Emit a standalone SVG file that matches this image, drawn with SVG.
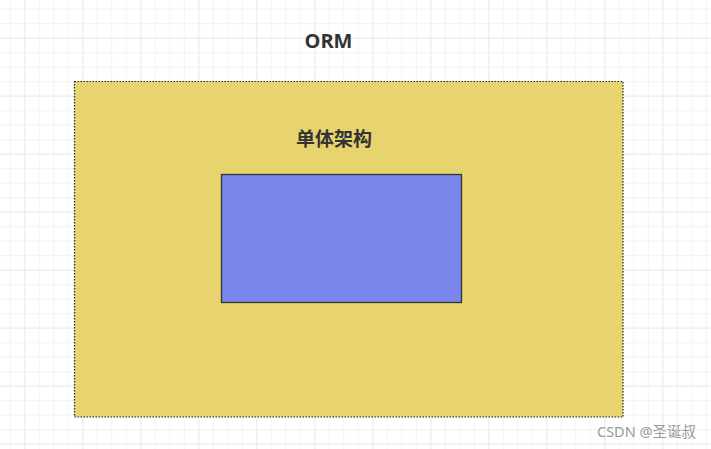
<svg xmlns="http://www.w3.org/2000/svg" width="711" height="449" viewBox="0 0 711 449">
  <style>
    .title { font-family: "Open Sans", "Noto Sans CJK SC", sans-serif; font-weight: bold; fill: #333333; text-anchor: middle; }
    .mark { font-family: "Noto Sans", "Noto Sans CJK SC", sans-serif; fill: #9a9a9a; font-size: 14.5px; }
  </style>
  <defs>
    <pattern id="minor" x="9.8" y="8.7" width="14.5" height="14.5" patternUnits="userSpaceOnUse">
      <path d="M0 0.5 H14.5 M0.5 0 V14.5" stroke="#f3f3f3" stroke-width="1" fill="none"/>
    </pattern>
    <pattern id="major" x="24.3" y="37.7" width="58" height="58" patternUnits="userSpaceOnUse">
      <path d="M0 0.5 H58 M0.5 0 V58" stroke="#ebebeb" stroke-width="1" fill="none"/>
    </pattern>
  </defs>
  <rect width="711" height="449" fill="#ffffff"/>
  <rect width="711" height="449" fill="url(#minor)"/>
  <rect width="711" height="449" fill="url(#major)"/>

  <g id="orm-title">
    <text class="title" x="328.5" y="47.5" font-size="20">ORM</text>
  </g>

  <g id="monolith">
    <rect x="74.5" y="81.5" width="548.5" height="335.5" fill="#e8d46f" stroke="#222222" stroke-width="1.2" stroke-dasharray="1.5 1.5"/>
    <text class="title" x="334" y="146" font-size="19">单体架构</text>
  </g>

  <g id="inner-box">
    <rect x="221.5" y="174.5" width="240" height="128" fill="#7b86ec" stroke="#333333" stroke-width="1.3"/>
  </g>

  <g id="connectors"></g>

  <text class="mark" x="597" y="437">CSDN @圣诞叔</text>
</svg>
